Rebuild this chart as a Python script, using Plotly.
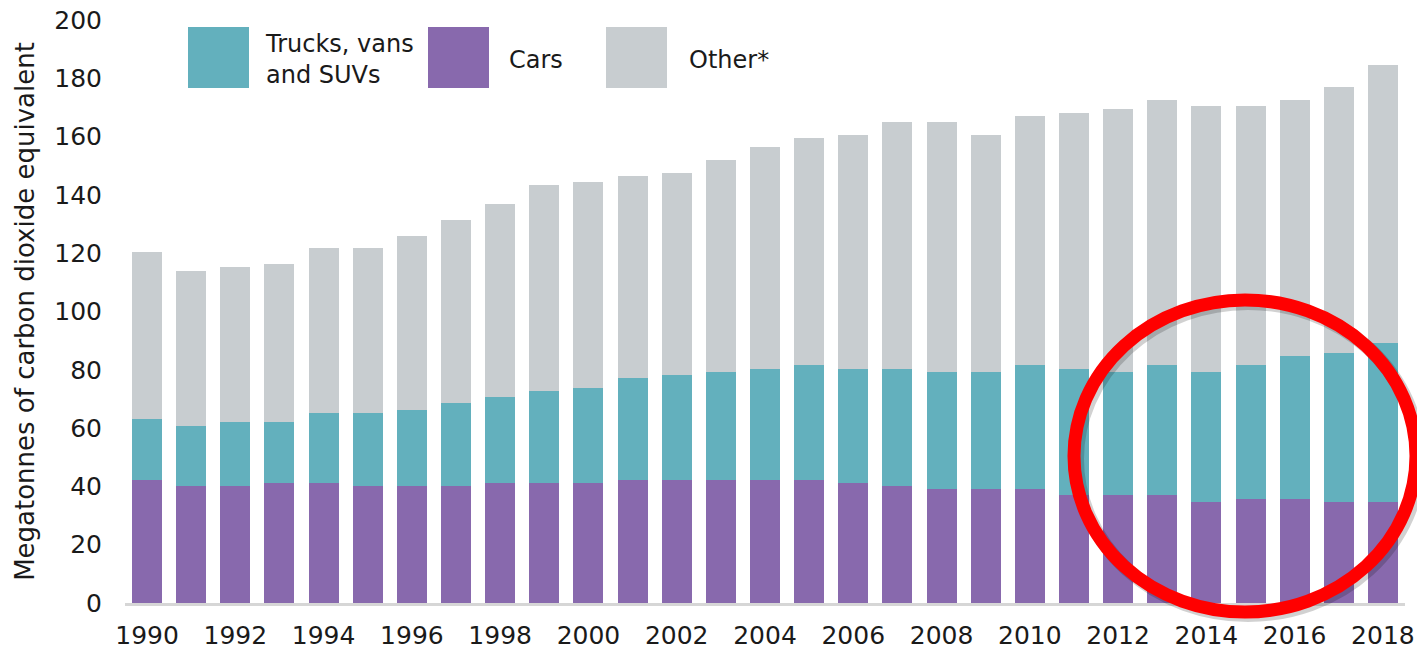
import plotly.graph_objects as go

years = list(range(1990, 2019))
cars = [42.3, 40.2, 40.2, 41.3, 41.3, 40.2, 40.2, 40.2, 41.3, 41.3, 41.3, 42.3, 42.3, 42.3, 42.3,
        42.3, 41.3, 40.2, 39.1, 39.1, 39.1, 36.9, 36.9, 36.9, 34.8, 35.8, 35.8, 34.8, 34.8]
trucks = [20.7, 20.6, 21.8, 20.7, 23.9, 25.0, 26.0, 28.3, 29.4, 31.4, 32.6, 34.8, 35.9, 36.9, 38.1,
          39.2, 39.1, 40.2, 40.1, 40.1, 42.4, 43.5, 42.3, 44.6, 44.4, 45.7, 48.9, 51.0, 54.3]
other = [57.5, 53.2, 53.2, 54.2, 56.5, 56.5, 59.8, 62.9, 66.2, 70.7, 70.5, 69.5, 69.4, 72.8, 76.0,
         78.1, 80.3, 84.6, 85.8, 81.5, 85.7, 87.8, 90.2, 91.2, 91.2, 88.9, 88.0, 91.1, 95.4]
x_ticks = list(range(1990, 2019, 2))
y_ticks = list(range(0, 201, 20))

C_TRUCK = "#63B0BD"
C_CAR = "#8869AD"
C_OTHER = "#C8CDD0"
TXT = "#1a1a1a"
FONT = "DejaVu Sans"

# page body adds an 8px offset; figure sized so the plot lands where the reference has it
OFF = 8
W, H = 1425 - OFF, 651 - OFF
ML, MT = 125 - OFF, 20 - OFF
PW, PH = 1280, 583
MR, MB = W - ML - PW, H - MT - PH


def px(x):
    # screen x of reference -> paper fraction
    return (x - 125) / PW


def py(y):
    # screen y of reference -> paper fraction
    return (603 - y) / PH


fig = go.Figure()
fig.add_bar(x=years, y=cars, name="Cars", marker=dict(color=C_CAR, line=dict(width=0)), width=0.68)
fig.add_bar(x=years, y=trucks, name="Trucks, vans and SUVs", marker=dict(color=C_TRUCK, line=dict(width=0)), width=0.68)
fig.add_bar(x=years, y=other, name="Other*", marker=dict(color=C_OTHER, line=dict(width=0)), width=0.68)

shapes = []
annotations = []
legend_items = [
    (C_TRUCK, 188, "Trucks, vans<br>and SUVs", 263),
    (C_CAR, 428, "Cars", 507),
    (C_OTHER, 606, "Other*", 687),
]
for col, sx, label, tx in legend_items:
    shapes.append(dict(type="rect", xref="paper", yref="paper", x0=px(sx), x1=px(sx + 61),
                       y0=py(88), y1=py(27), fillcolor=col, line=dict(width=0), layer="above"))
    annotations.append(dict(xref="paper", yref="paper", x=px(tx), y=py(60), text=label,
                            showarrow=False, xanchor="left", yanchor="middle", align="left",
                            font=dict(family=FONT, size=24, color=TXT)))

# red highlight ellipse with faint shadow
shapes.append(dict(type="circle", xref="paper", yref="paper",
                   x0=px(1077), x1=px(1419), y0=py(615), y1=py(303),
                   line=dict(color="rgba(0,0,0,0.18)", width=14), layer="above"))
shapes.append(dict(type="circle", xref="paper", yref="paper",
                   x0=px(1074), x1=px(1416), y0=py(612), y1=py(300),
                   line=dict(color="#FF0000", width=13), layer="above"))

fig.update_layout(
    barmode="stack",
    width=W, height=H,
    margin=dict(l=ML, r=MR, t=MT, b=MB, pad=0, autoexpand=False),
    plot_bgcolor="white", paper_bgcolor="white",
    showlegend=False,
    shapes=shapes, annotations=annotations,
    font=dict(family=FONT, color=TXT),
)
fig.update_xaxes(range=[1989.5, 2018.5], tickvals=x_ticks, ticktext=[str(v) for v in x_ticks],
                 showgrid=False, zeroline=False, showline=True, linecolor="#D6D6D6", linewidth=3,
                 ticks="", tickfont=dict(family=FONT, size=25, color=TXT), ticklabelstandoff=8,
                 ticklabeloverflow="allow", automargin=False)
fig.update_yaxes(range=[0, 200], tickvals=y_ticks, showgrid=False, zeroline=False, showline=False,
                 ticks="", tickfont=dict(family=FONT, size=25, color=TXT), ticklabelstandoff=22,
                 ticklabeloverflow="allow", automargin=False,
                 title=dict(text="Megatonnes of carbon dioxide equivalent",
                            font=dict(family=FONT, size=26, color=TXT), standoff=12))

fig.write_html("out.html")
